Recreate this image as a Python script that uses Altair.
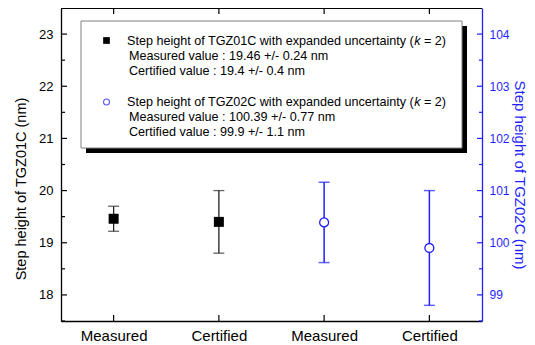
import altair as alt
import pandas as pd

# ---------------- data ----------------
categories = ["Measured", "Certified", "Measured", "Certified"]
positions = [1, 2, 3, 4]

tgz01_pos = [1, 2]
tgz01_value = [19.46, 19.40]
tgz01_low = [19.22, 18.80]
tgz01_high = [19.70, 20.00]

tgz02_pos = [3, 4]
tgz02_value = [100.39, 99.90]
tgz02_low = [99.62, 98.80]
tgz02_high = [101.16, 101.00]

left_major = [18, 19, 20, 21, 22, 23]
left_minor = [17.5, 18.5, 19.5, 20.5, 21.5, 22.5, 23.5]
right_major = [99, 100, 101, 102, 103, 104]
right_minor = [98.5, 99.5, 100.5, 101.5, 102.5, 103.5, 104.5]

legend_heads = ["Step height of TGZ01C with expanded uncertainty (",
                "Step height of TGZ02C with expanded uncertainty ("]
legend_k = "k"
legend_tail = "= 2)"
legend_details = [["Measured value : 19.46 +/- 0.24 nm", "Certified value : 19.4 +/- 0.4 nm"],
                  ["Measured value : 100.39 +/- 0.77 nm", "Certified value : 99.9 +/- 1.1 nm"]]

# ---------------- style ----------------
W, H = 421, 313
BLUE = "#1f1fff"
FONT = "Liberation Sans"

df_cat = pd.DataFrame({"x": positions})
df1 = pd.DataFrame({"x": tgz01_pos, "v": tgz01_value, "lo": tgz01_low, "hi": tgz01_high})
df2 = pd.DataFrame({"x": tgz02_pos, "v": tgz02_value, "lo": tgz02_low, "hi": tgz02_high})

label_js = "[" + ",".join(["''"] + ["'%s'" % c for c in categories]) + "]"
x_axis = alt.Axis(values=positions, labelExpr=label_js + "[datum.value]", title=None,
                  tickSize=0, grid=False, domainColor="black", domainWidth=1.3,
                  labelFontSize=15, labelPadding=7, labelColor="black", labelFont=FONT)
x_scale = alt.Scale(domain=[0.5, 4.5], nice=False, zero=False)


def X():
    return alt.X("x:Q", scale=x_scale, axis=x_axis)


yL_scale = alt.Scale(domain=[17.5, 23.5], nice=False, zero=False)
yL_axis = alt.Axis(orient="left", values=left_major, tickSize=0, labelPadding=8, grid=False,
                   labelFontSize=13, labelColor="black", labelFont=FONT,
                   domainColor="black", domainWidth=1.3,
                   title="Step height of TGZ01C (nm)", titleFontSize=14.5,
                   titleFontWeight="normal", titleColor="black", titleFont=FONT,
                   titleAngle=-90, titleX=-40, titleY=H / 2 + 24,
                   titleAlign="center", titleBaseline="middle")
yR_scale = alt.Scale(domain=[98.5, 104.5], nice=False, zero=False)
yR_axis = alt.Axis(orient="right", values=right_major, tickSize=0, labelPadding=7, grid=False,
                   labelFontSize=12, labelColor=BLUE, labelFont=FONT,
                   domainColor=BLUE, domainWidth=1.3,
                   title="Step height of TGZ02C (nm)", titleFontSize=15,
                   titleFontWeight="normal", titleColor=BLUE, titleFont=FONT,
                   titleAngle=90, titleX=37, titleY=H / 2 + 10,
                   titleAlign="center", titleBaseline="middle")


def YL(f):
    return alt.Y(f, scale=yL_scale, axis=yL_axis)


def YR(f):
    return alt.Y(f, scale=yR_scale, axis=yR_axis)


# ---- left (TGZ01C) group ----
base1 = alt.Chart(df1)
l_bar = base1.mark_rule(color="#222", strokeWidth=1.3).encode(x=X(), y=YL("lo:Q"), y2="hi:Q")
l_cap_lo = base1.mark_tick(color="#222", orient="horizontal", size=11, thickness=1.3).encode(x=X(), y=YL("lo:Q"))
l_cap_hi = base1.mark_tick(color="#222", orient="horizontal", size=11, thickness=1.3).encode(x=X(), y=YL("hi:Q"))
l_pt = base1.mark_square(color="black", size=100, opacity=1).encode(x=X(), y=YL("v:Q"))

l_tmaj = alt.Chart(pd.DataFrame({"t": left_major})).mark_rule(color="black", strokeWidth=1.2).encode(
    y=YL("t:Q"), x=alt.value(0), x2=alt.value(6))
l_tmin = alt.Chart(pd.DataFrame({"t": left_minor})).mark_rule(color="black", strokeWidth=1.2).encode(
    y=YL("t:Q"), x=alt.value(0), x2=alt.value(4))
b_ticks = alt.Chart(df_cat).mark_rule(color="black", strokeWidth=1.2).encode(
    x=X(), y=alt.value(H), y2=alt.value(H - 6))
t_ticks = alt.Chart(df_cat).mark_rule(color="black", strokeWidth=1.2).encode(
    x=X(), y=alt.value(0), y2=alt.value(6))

left = alt.layer(l_tmaj, l_tmin, b_ticks, t_ticks, l_bar, l_cap_lo, l_cap_hi, l_pt)

# ---- right (TGZ02C) group ----
base2 = alt.Chart(df2)
r_bar = base2.mark_rule(color=BLUE, strokeWidth=1.5).encode(x=X(), y=YR("lo:Q"), y2="hi:Q")
r_cap_lo = base2.mark_tick(color=BLUE, orient="horizontal", size=11, thickness=1.5).encode(x=X(), y=YR("lo:Q"))
r_cap_hi = base2.mark_tick(color=BLUE, orient="horizontal", size=11, thickness=1.5).encode(x=X(), y=YR("hi:Q"))
r_pt = base2.mark_point(shape="circle", size=80, filled=True, fill="white", stroke=BLUE,
                        strokeWidth=1.3, opacity=1).encode(x=X(), y=YR("v:Q"))
r_tmaj = alt.Chart(pd.DataFrame({"t": right_major})).mark_rule(color=BLUE, strokeWidth=1.2).encode(
    y=YR("t:Q"), x=alt.value(W), x2=alt.value(W - 5))
r_tmin = alt.Chart(pd.DataFrame({"t": right_minor})).mark_rule(color=BLUE, strokeWidth=1.2).encode(
    y=YR("t:Q"), x=alt.value(W), x2=alt.value(W - 3))

right = alt.layer(r_tmaj, r_tmin, r_bar, r_cap_lo, r_cap_hi, r_pt)

# ---- frame top ----
top_line = alt.Chart(df_cat).mark_rule(color="black", strokeWidth=1.3).encode(
    x=alt.value(0), x2=alt.value(W), y=alt.value(0))

# ---- legend box ----
box_l, box_t, box_r, box_b = 20, 13, 401, 140
shadow = 5
dummy = pd.DataFrame({"a": [0]})
shadow_rect = alt.Chart(dummy).mark_rect(color="black").encode(
    x=alt.value(box_l + shadow), x2=alt.value(box_r + shadow),
    y=alt.value(box_t + shadow), y2=alt.value(box_b + shadow))
box_rect = alt.Chart(dummy).mark_rect(fill="white", stroke="#808080", strokeWidth=1).encode(
    x=alt.value(box_l), x2=alt.value(box_r), y=alt.value(box_t), y2=alt.value(box_b))

legend_layers = [shadow_rect, box_rect]
group_y = [32.5, 94]
line_gap = 15
fs = 12.6
head_x = 66
detail_x = 68
k_x = head_x + 22.789 * fs
tail_x = k_x + 0.5 * fs + 0.278 * fs
for gi in range(2):
    gy = group_y[gi]
    txt = dict(font=FONT, fontSize=fs, color="black", baseline="middle", align="left")
    legend_layers.append(alt.Chart(dummy).mark_text(**txt, text=legend_heads[gi]).encode(
        x=alt.value(head_x), y=alt.value(gy)))
    legend_layers.append(alt.Chart(dummy).mark_text(**txt, text=legend_k, fontStyle="italic").encode(
        x=alt.value(k_x), y=alt.value(gy)))
    legend_layers.append(alt.Chart(dummy).mark_text(**txt, text=legend_tail).encode(
        x=alt.value(tail_x), y=alt.value(gy)))
    for li, line in enumerate(legend_details[gi]):
        legend_layers.append(alt.Chart(dummy).mark_text(**txt, text=line).encode(
            x=alt.value(detail_x), y=alt.value(gy + line_gap * (li + 1))))

legend_layers.append(alt.Chart(dummy).mark_square(color="black", size=45, opacity=1).encode(
    x=alt.value(45.5), y=alt.value(group_y[0])))
legend_layers.append(alt.Chart(dummy).mark_point(shape="circle", size=35, stroke="#5a5aff",
                                                 strokeWidth=1.1, fill="white", filled=True,
                                                 opacity=1).encode(
    x=alt.value(45.5), y=alt.value(group_y[1])))

chart = alt.layer(
    alt.layer(left, right).resolve_scale(y="independent"),
    top_line,
    *legend_layers,
).properties(
    width=W, height=H,
    autosize=alt.AutoSizeParams(type="none"),
    padding={"left": 53, "top": 0, "right": 45, "bottom": 22},
    background="white",
).configure_view(stroke=None)

chart.save("out.html", embed_options={"renderer": "svg", "actions": False})
